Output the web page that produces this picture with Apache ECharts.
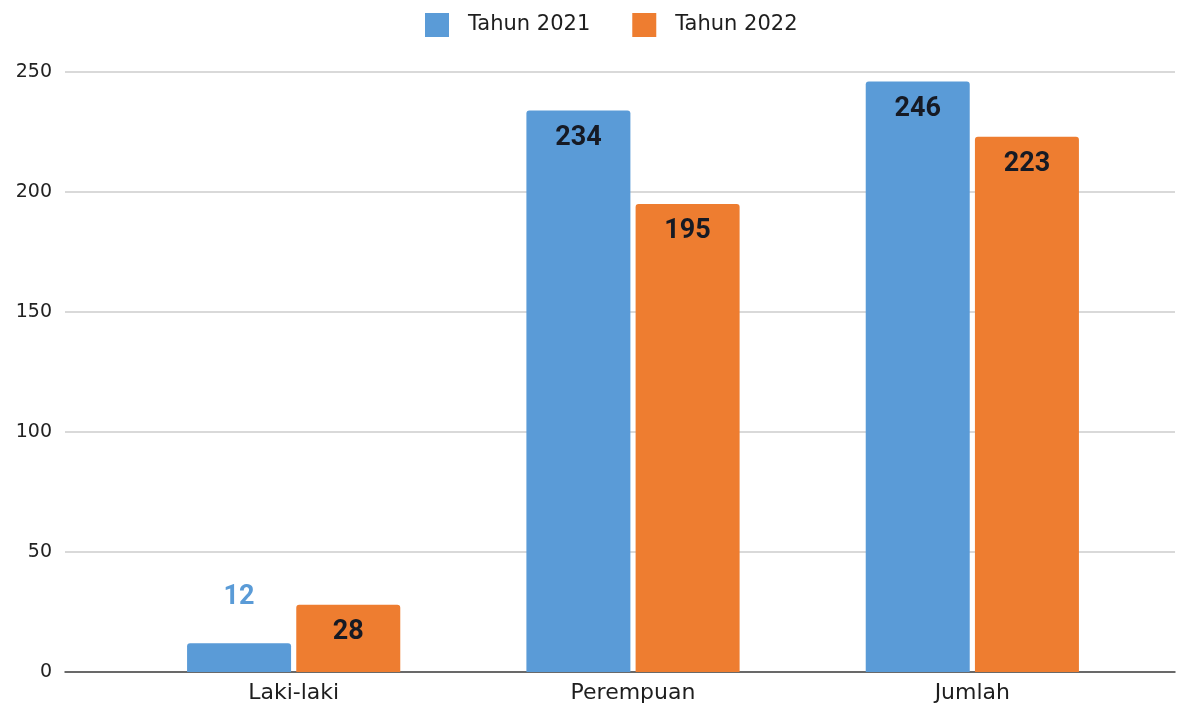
<!DOCTYPE html>
<html>
<head>
<meta charset="utf-8">
<script src="https://cdn.jsdelivr.net/npm/echarts@6/dist/echarts.min.js"></script>
<style>
html,body{margin:0;padding:0;background:#fff;}
#chart{width:1189px;height:707px;}
</style>
</head>
<body>
<div id="chart"></div>
<script>
var categories = ['Laki-laki', 'Perempuan', 'Jumlah'];
var tahun2021 = [12, 234, 246];
var tahun2022 = [28, 195, 223];
var seriesNames = ['Tahun 2021', 'Tahun 2022'];

// warna seri
var biru = '#5a9bd7';
var oranye = '#ee7d30';

function init(){
	var myChart = echarts.init(document.getElementById('chart'));
	var fontFam = '"DejaVu Sans", sans-serif';
	var labelBase = {
		show: true,
		position: 'insideTop',
		distance: 14,
		fontSize: 27,
		fontWeight: 'bold',
		color: '#161a24',
		fontFamily: 'Roboto, sans-serif'
	};
	// label kecil (bar terlalu pendek) ditaruh di atas bar
	function dataWithLabel(values, color){
		return values.map(function(v){
			if(v < 20){
				return {value: v, label: {position: 'top', distance: 32, color: color}};
			}
			return v;
		});
	}
	var option = {
		animation: false,
		textStyle: {fontFamily: fontFam},
		legend: {
			top: 8,
			left: 420,
			itemWidth: 24,
			itemHeight: 24,
			itemGap: 42,
			icon: 'rect',
			textStyle: {fontSize: 21, color: '#1e1e1e', fontFamily: fontFam, padding: [0, 0, 0, 14]},
			data: seriesNames
		},
		grid: [
			{left: 65, right: 14, top: 72, bottom: 35},
			{left: 124, right: 47, top: 72, bottom: 35}
		],
		xAxis: [
			{
				type: 'category', gridIndex: 0, data: [''],
				axisLine: {show: true, lineStyle: {color: '#444', width: 1.5}},
				axisTick: {show: false}, axisLabel: {show: false}
			},
			{
				type: 'category', gridIndex: 1, data: categories,
				axisLine: {show: false}, axisTick: {show: false},
				axisLabel: {fontSize: 22, color: '#1e1e1e', margin: 10, fontFamily: fontFam}
			}
		],
		yAxis: [
			{
				type: 'value', gridIndex: 0, min: 0, max: 250, interval: 50,
				axisLine: {show: false}, axisTick: {show: false},
				axisLabel: {fontSize: 19, color: '#222', margin: 13, fontFamily: fontFam},
				splitLine: {lineStyle: {color: '#cccccc', width: 1.5}}
			},
			{
				type: 'value', gridIndex: 1, min: 0, max: 250, interval: 50,
				axisLine: {show: false}, axisTick: {show: false},
				axisLabel: {show: false}, splitLine: {show: false}
			}
		],
		series: [
			{
				name: seriesNames[0], type: 'bar', xAxisIndex: 1, yAxisIndex: 1,
				barWidth: 104, barGap: '5%',
				itemStyle: {color: biru, borderRadius: [3, 3, 0, 0]},
				label: labelBase,
				data: dataWithLabel(tahun2021, biru)
			},
			{
				name: seriesNames[1], type: 'bar', xAxisIndex: 1, yAxisIndex: 1,
				barWidth: 104, barGap: '5%',
				itemStyle: {color: oranye, borderRadius: [3, 3, 0, 0]},
				label: labelBase,
				data: dataWithLabel(tahun2022, oranye)
			}
		]
	};
	myChart.setOption(option);
}
init();
</script>
</body>
</html>
